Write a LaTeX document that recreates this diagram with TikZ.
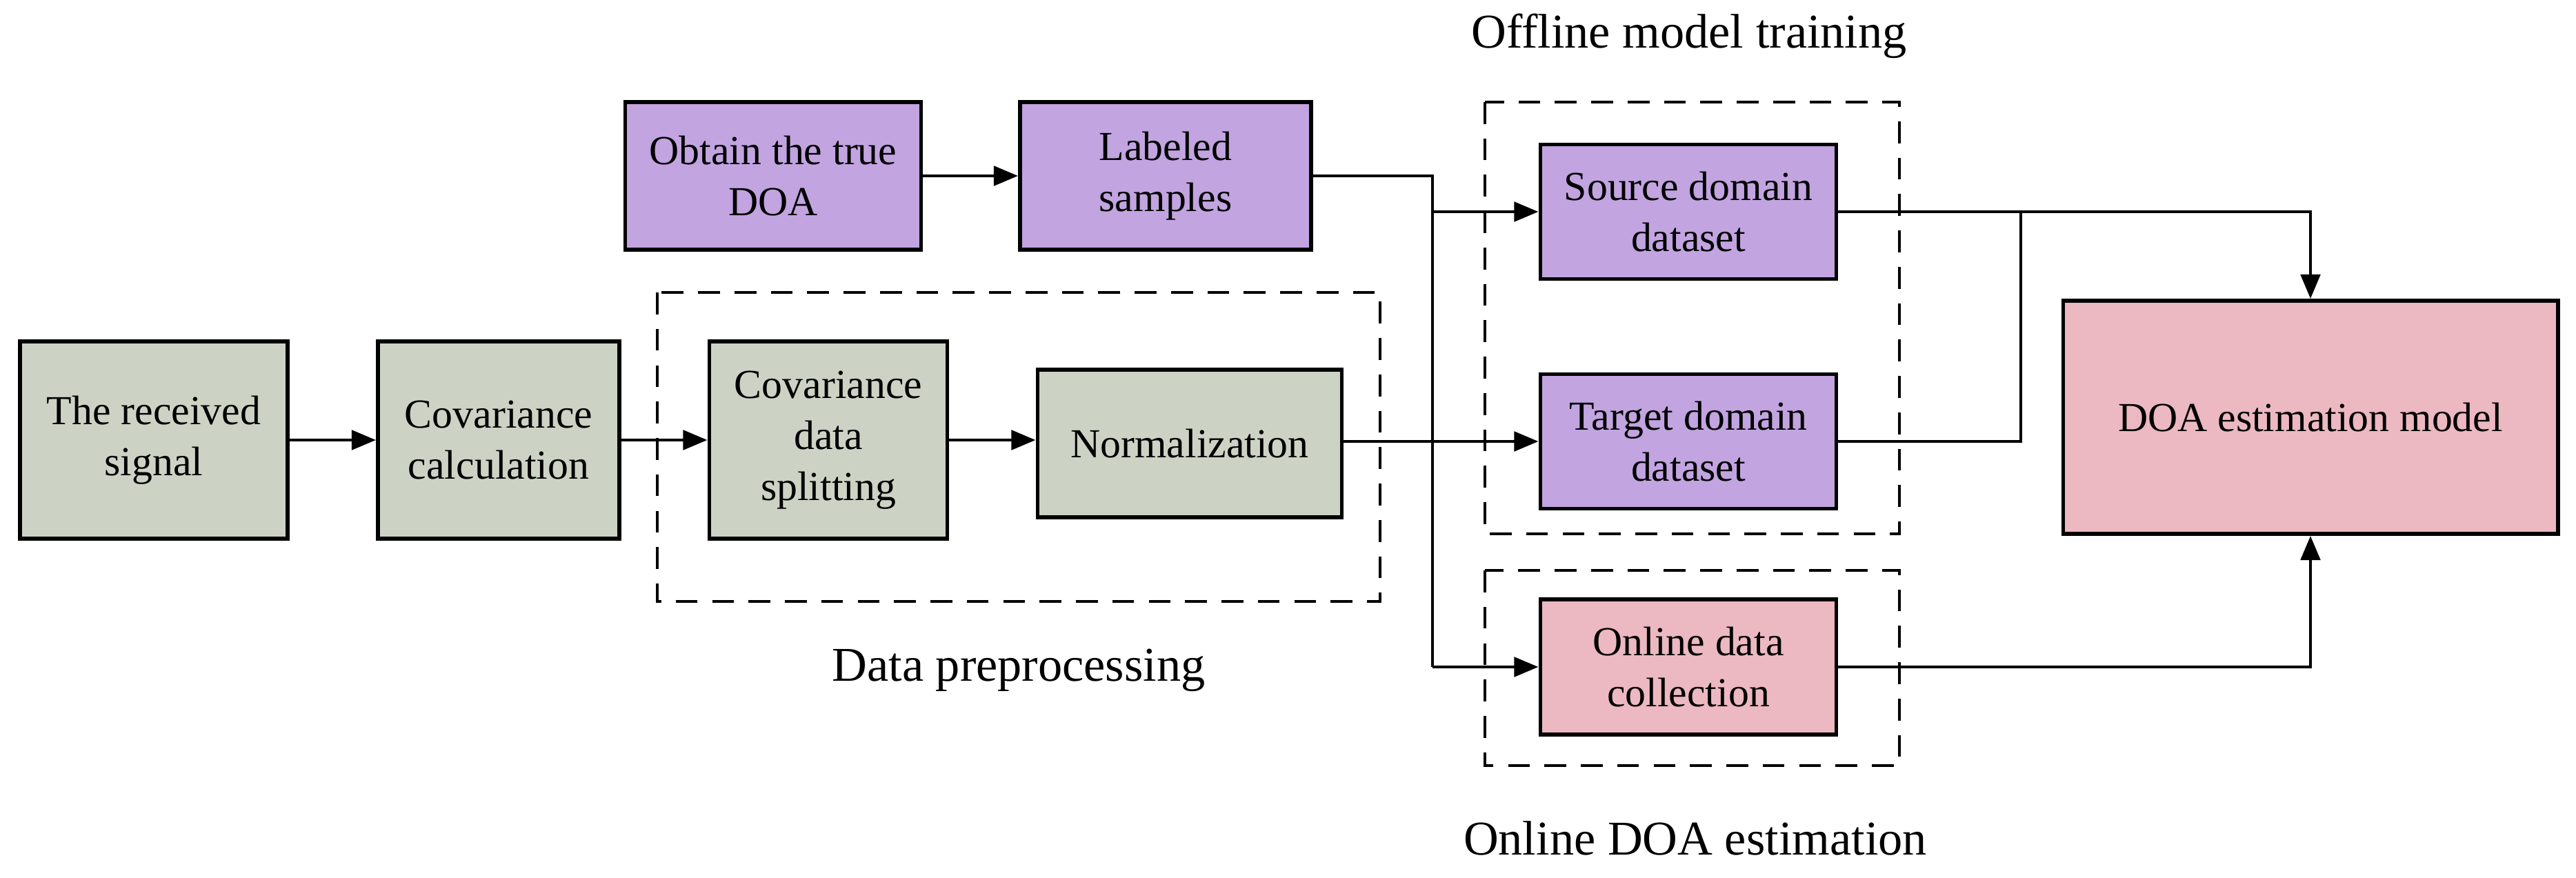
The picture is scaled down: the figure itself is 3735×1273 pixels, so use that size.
\documentclass[tikz,border=0pt]{standalone}
\usepackage{fontspec}
\setmainfont{Liberation Serif}
\usetikzlibrary{arrows.meta}
\definecolor{grn}{RGB}{204,211,196}
\definecolor{vio}{RGB}{194,164,224}
\definecolor{pnk}{RGB}{236,184,193}
\tikzset{
  box/.style={draw,line width=1.6pt,align=center,font=\fontsize{17}{21}\selectfont,inner sep=0pt},
  grp/.style={draw,dashed,line width=1.4pt,dash pattern=on 9pt off 6pt},
  grplabel/.style={font=\fontsize{20}{24}\selectfont},
  arr/.style={line width=1.4pt,-{Triangle[length=10pt,width=8pt]}},
  ln/.style={line width=1.4pt}
}
\begin{document}
\begin{tikzpicture}[x=0.01cm,y=-0.01cm]
        \useasboundingbox (0,0) rectangle (3735,1273);
        % dashed groups
        \draw[grp] (953,424) rectangle (2001,872);
        \draw[grp] (2153,148) rectangle (2754,774);
        \draw[grp] (2153,827) rectangle (2754,1110);
        \node[grplabel] (lpre) at (1477,972) {Data preprocessing};
        \node[grplabel] (loff) at (2449,52) {Offline model training};
        \node[grplabel] (lon) at (2458,1215) {Online DOA estimation};
        % boxes
        \node[box,fill=grn,minimum width=3.88cm,minimum height=2.86cm] (sig) at (223,638) {The received\\signal};
        \node[box,fill=grn,minimum width=3.5cm,minimum height=2.86cm] (cov) at (723,638) {Covariance\\calculation};
        \node[box,fill=grn,minimum width=3.45cm,minimum height=2.86cm] (split) at (1201,638) {Covariance\\data\\splitting};
        \node[box,fill=grn,minimum width=4.41cm,minimum height=2.14cm] (norm) at (1725,643) {Normalization};
        \node[box,fill=vio,minimum width=4.29cm,minimum height=2.14cm] (doa) at (1121,255) {Obtain the true\\DOA};
        \node[box,fill=vio,minimum width=4.22cm,minimum height=2.14cm] (lab) at (1690,255) {Labeled\\samples};
        \node[box,fill=vio,minimum width=4.29cm,minimum height=1.95cm] (src) at (2448,307) {Source domain\\dataset};
        \node[box,fill=vio,minimum width=4.29cm,minimum height=1.95cm] (tgt) at (2448,640) {Target domain\\dataset};
        \node[box,fill=pnk,minimum width=4.29cm,minimum height=1.96cm] (col) at (2448,967) {Online data\\collection};
        \node[box,fill=pnk,minimum width=7.17cm,minimum height=3.38cm] (mod) at (3350,605) {DOA estimation model};
        \coordinate (jl) at (2077,255);
        \coordinate (jr) at (2930,307);
        % connectors
        \draw[arr] (sig) -- (cov);
        \draw[arr] (cov) -- (split);
        \draw[arr] (split) -- (split -| norm.west);
        \draw[arr] (doa) -- (lab);
        \draw[arr] (norm.east |- tgt) -- (tgt);
        \draw[ln] (lab.east |- jl) -- (jl) -- (jl |- col);
        \draw[arr] (jl |- src) -- (src);
        \draw[arr] (jl |- col) -- (col);
        \draw[arr] (src) -| (mod.north);
        \draw[ln] (tgt) -| (jr);
        \draw[arr] (col) -| (mod.south);
\end{tikzpicture}
\end{document}
